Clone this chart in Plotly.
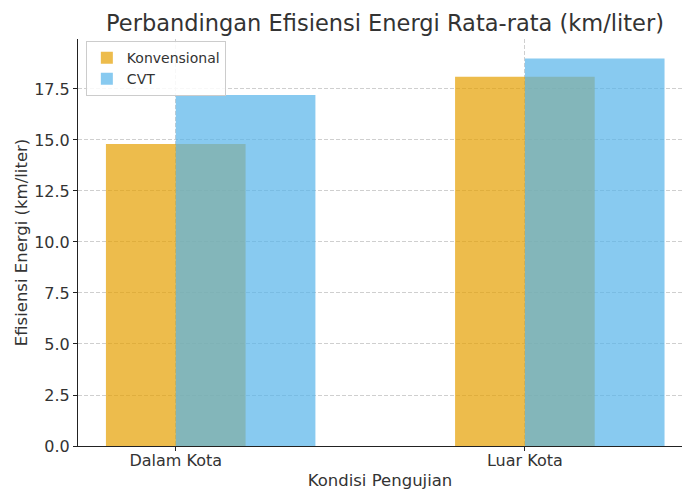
import plotly.graph_objects as go

categories = ["Dalam Kota", "Luar Kota"]
konvensional = [14.8, 18.1]
cvt = [17.2, 19.0]
y_ticks = [0, 2.5, 5, 7.5, 10, 12.5, 15, 17.5]

FONT = "DejaVu Sans"
TXT = "#333333"

fig = go.Figure()
fig.add_trace(go.Bar(
    x=categories, y=konvensional, name="Konvensional",
    width=0.4, offset=-0.2,
    marker=dict(color="rgba(230,159,0,0.7)", line=dict(width=0)),
))
fig.add_trace(go.Bar(
    x=categories, y=cvt, name="CVT",
    width=0.4, offset=0.0,
    marker=dict(color="rgba(86,180,233,0.7)", line=dict(width=0)),
))

grid = dict(showgrid=True, gridcolor="#cfcfcf", griddash="4px,2px", gridwidth=1)

fig.update_layout(
    width=682, height=490, autosize=False,
    barmode="overlay",
    plot_bgcolor="white", paper_bgcolor="white",
    margin=dict(l=78, r=0, t=39, b=44),
    font=dict(family=FONT, color=TXT),
    title=dict(
        text="Perbandingan Efisiensi Energi Rata-rata (km/liter)",
        x=385 / 682, xanchor="center", xref="container",
        y=1 - 23 / 490, yanchor="middle", yref="container",
        font=dict(size=22.5, family=FONT, color=TXT),
    ),
    xaxis=dict(
        type="category", range=[-0.28, 1.45],
        showline=True, linecolor="#222222", linewidth=1, mirror=False,
        ticks="outside", ticklen=4, tickcolor="#222222",
        ticklabelstandoff=-4,
        tickfont=dict(size=16, family=FONT, color=TXT),
        title=dict(text="Kondisi Pengujian", font=dict(size=16.5, family=FONT, color=TXT), standoff=5),
        zeroline=False,
        **grid,
    ),
    yaxis=dict(
        range=[0, 19.95],
        tickvals=y_ticks, tickformat=".1f",
        showline=True, linecolor="#222222", linewidth=1, mirror=False,
        ticks="outside", ticklen=4, tickcolor="#222222",
        tickfont=dict(size=16, family=FONT, color=TXT),
        title=dict(text="Efisiensi Energi (km/liter)", font=dict(size=16.5, family=FONT, color=TXT), standoff=2),
        zeroline=False,
        **grid,
    ),
    legend=dict(
        x=0.013, y=0.995, xanchor="left", yanchor="top",
        bgcolor="rgba(255,255,255,0.85)", bordercolor="#cccccc", borderwidth=1,
        font=dict(size=14, family=FONT, color=TXT),
        tracegroupgap=0,
    ),
)

fig.write_html(
    "out.html",
    config={"displayModeBar": False},
    post_script="document.body.style.margin='0';document.body.style.overflow='hidden';",
)
